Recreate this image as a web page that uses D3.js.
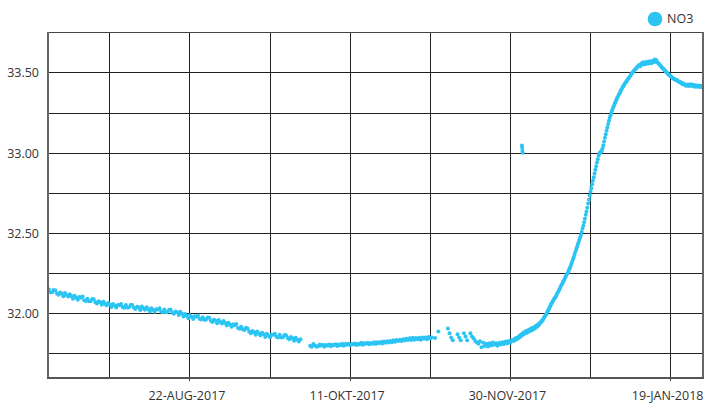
<!DOCTYPE html>
<html>
<head>
<meta charset="utf-8">
<script src="https://cdn.jsdelivr.net/npm/d3@7/dist/d3.min.js"></script>
<style>
  html, body { margin: 0; padding: 0; background: #fff; }
  svg { display: block; }
  text { font-family: "Open Sans", "Noto Sans", "DejaVu Sans", sans-serif; fill: #333; }
</style>
</head>
<body>
<svg id="chart" width="708" height="407"></svg>
<script>
// ---------------- DATA ----------------
const seriesName = "NO3";
const monthNames = ["JAN","FEB","MRT","APR","MEI","JUN","JUL","AUG","SEP","OKT","NOV","DEC"];

// vertical grid dates (every 25 days) and labelled dates
const gridDates  = ["2017-07-28","2017-08-22","2017-09-16","2017-10-11","2017-11-05","2017-11-30","2017-12-25","2018-01-19"];
const labelDates = ["2017-08-22","2017-10-11","2017-11-30","2018-01-19"];
const yGridValues  = [31.75, 32.00, 32.25, 32.50, 32.75, 33.00, 33.25, 33.50];
const yLabelValues = [32.00, 32.50, 33.00, 33.50];

// readings, 12-hourly (Jul-Nov) and 6-hourly (Dec-Jan); null = no reading
const no3Jul = [32.150,32.134, 32.133,32.147, 32.144,32.126, 32.117,32.131, 32.124,32.108,
  32.128,32.116, 32.106,32.121, 32.109,32.093, 32.111,32.101, 32.087,32.103, 32.099,32.106,
  32.084,32.079, 32.093,32.077, 32.077,32.091, 32.089,32.071, 32.063,32.077, 32.071,32.055,
  32.074,32.062, 32.052,32.067, 32.057,32.041, 32.060,32.050, 32.038,32.054, 32.053,32.060];
const no3Aug = [32.042,32.037, 32.054,32.038, 32.040,32.054, 32.054,32.036, 32.029,32.043,
  32.038,32.022, 32.044,32.032, 32.024,32.039, 32.029,32.013, 32.033,32.023, 32.011,32.027,
  32.026,32.033, 32.013,32.008, 32.025,32.009, 32.010,32.024, 32.024,32.006, 31.999,32.013,
  32.008,31.992, 32.012,32.000, 31.982,31.997, 31.987,31.971, 31.990,31.980, 31.967,31.983,
  31.981,31.988, 31.968,31.963, 31.978,31.962, 31.962,31.976, 31.974,31.956, 31.948,31.962,
  31.956,31.940, 31.960,31.948];
const no3Sep = [31.939,31.954, 31.942,31.926, 31.943,31.933, 31.918,31.934, 31.928,31.935,
  31.911,31.906, 31.918,31.902, 31.898,31.912, 31.907,31.889, 31.878,31.892, 31.884,31.868,
  31.888,31.876, 31.866,31.881, 31.871,31.855, 31.874,31.864, 31.853,31.869, 31.868,31.875,
  31.856,31.851, 31.868,31.852, 31.853,31.867, 31.866,31.848, 31.840,31.854, 31.847,31.831,
  31.850,31.838, 31.826,31.841, null,null, null,null, null,31.800, 31.794,31.810, 31.802,31.793];
const no3Oct = [31.796,31.807, 31.800,31.806, 31.793,31.804, 31.801,31.808, 31.797,31.806,
  31.803,31.809, 31.799,31.808, 31.803,31.812, 31.800,31.810, 31.806,31.813, 31.803,31.811,
  31.808,31.814, 31.804,31.813, 31.808,31.818, 31.806,31.815, 31.812,31.819, 31.809,31.817,
  31.813,31.822, 31.811,31.821, 31.816,31.823, 31.814,31.826, 31.819,31.828, 31.820,31.830,
  31.822,31.834, 31.825,31.836, 31.829,31.838, 31.830,31.840, 31.833,31.843, 31.835,31.846,
  31.836,31.849, 31.838,31.848];
const no3Nov = [31.840,31.849, 31.837,31.851, 31.843,31.852, 31.841,31.854, 31.846,31.852,
  null,31.848, null,31.889, null,null, null,null, null,31.907, 31.877,31.852, 31.834,null,
  null,31.871, 31.852,31.834, null,31.877, 31.858,31.834, null,31.877, 31.858,31.846,
  31.830,31.822, 31.812,31.828, 31.790,31.818, 31.798,31.812, 31.795,31.815, 31.802,31.820,
  31.806,31.816, 31.800,31.818, 31.808,31.822, 31.810,31.826, 31.814,31.830, 31.818,31.834];
const no3Dec = [
  31.830,31.842,31.836,31.848, 31.840,31.852,31.846,31.860, 31.855,31.868,31.862,31.876,
  31.870,31.884,31.876,31.890, 31.880,31.894,31.886,31.900, 31.890,31.904,31.897,31.910,
  31.900,31.914,31.908,31.922, 31.914,31.928,31.922,31.936, 31.932,31.944,31.945,31.956,
  31.955,31.966,31.974,31.984, 31.990,31.998,32.010,32.020, 32.028,32.040,32.050,32.062,
  32.068,32.078,32.086,32.096, 32.102,32.110,32.122,32.130, 32.140,32.150,32.160,32.172,
  32.180,32.190,32.202,32.210, 32.222,32.230,32.242,32.250, 32.258,32.272,32.282,32.296,
  32.310,32.322,32.338,32.352, 32.368,32.384,32.398,32.414, 32.430,32.444,32.460,32.474,
  32.490,32.508,32.530,32.548, 32.570,32.592,32.616,32.636, 32.660,32.686,32.710,32.736,
  32.760,32.782,32.806,32.828, 32.850,32.874,32.896,32.918, 32.942,32.962,32.984,32.998,
  33.004,33.010,33.014,33.030, 33.050,33.072,33.096,33.118, 33.140,33.160,33.182,33.202,
  33.220,33.236,33.252,33.268];
const no3Jan = [
  33.282,33.292,33.306,33.318, 33.330,33.342,33.350,33.362, 33.372,33.380,33.392,33.400,
  33.410,33.418,33.426,33.434, 33.442,33.448,33.458,33.464, 33.470,33.478,33.484,33.494,
  33.500,33.506,33.512,33.518, 33.524,33.528,33.536,33.540, 33.546,33.550,33.542,33.556,
  33.560,33.552,33.566,33.556, 33.564,33.556,33.570,33.560, 33.568,33.558,33.572,33.562,
  33.560,33.574,33.566,33.578, 33.584,33.570,33.580,33.568, 33.564,33.558,33.552,33.546,
  33.542,33.534,33.530,33.524, 33.520,33.514,33.508,33.504, 33.498,33.492,33.488,33.484,
  33.480,33.474,33.470,33.466, 33.466,33.460,33.458,33.454, 33.456,33.450,33.446,33.442,
  33.444,33.438,33.434,33.430, 33.434,33.428,33.426,33.420, 33.426,33.420,33.428,33.418,
  33.424,33.430,33.420,33.426, 33.418,33.424,33.414,33.422, 33.420,33.414,33.422,33.416,
  33.418,33.412,33.420,33.414];
// isolated readings in early December
const outlierDates  = ["2017-12-03 14:00","2017-12-03 16:00","2017-12-03 18:00","2017-12-03 20:00"];
const outlierValues = [33.048, 33.032, 33.014, 33.002];

const segments = [
  { start: "2017-07-09 00:00", stepHours: 12, values: no3Jul },
  { start: "2017-08-01 00:00", stepHours: 12, values: no3Aug },
  { start: "2017-09-01 00:00", stepHours: 12, values: no3Sep },
  { start: "2017-10-01 00:00", stepHours: 12, values: no3Oct },
  { start: "2017-11-01 00:00", stepHours: 12, values: no3Nov },
  { start: "2017-12-01 00:00", stepHours: 6,  values: no3Dec },
  { start: "2018-01-01 00:00", stepHours: 6,  values: no3Jan }
];

// ---------------- CHART ----------------
const parseDT = d3.timeParse("%Y-%m-%d %H:%M");
const parseD  = d3.timeParse("%Y-%m-%d");
const points = [];
segments.forEach(s => {
  const t0 = parseDT(s.start);
  s.values.forEach((v, i) => {
    if (v !== null) points.push({ t: d3.timeHour.offset(t0, i * s.stepHours), v: v });
  });
});
outlierDates.forEach((d, i) => points.push({ t: parseDT(d), v: outlierValues[i] }));

const L = 48, R = 702.7, T = 32, B = 377.5;
const x = d3.scaleTime()
  .domain([parseDT("2017-07-08 17:00"), parseDT("2018-01-29 00:00")])
  .range([L, R]);
const y = d3.scaleLinear().domain([31.602, 33.755]).range([B, T]);

const svg = d3.select("#chart");
svg.append("rect").attr("width", 708).attr("height", 407).attr("fill", "#fff");

const grid = svg.append("g").attr("shape-rendering", "crispEdges");
grid.selectAll("line.hg").data(yGridValues).join("line")
  .attr("x1", L).attr("x2", R)
  .attr("y1", d => y(d)).attr("y2", d => y(d))
  .attr("stroke", "#222").attr("stroke-width", 1);
grid.selectAll("line.vg").data(gridDates.map(parseD)).join("line")
  .attr("x1", d => x(d)).attr("x2", d => x(d))
  .attr("y1", T).attr("y2", B)
  .attr("stroke", "#222").attr("stroke-width", 1);

// points
svg.append("g").selectAll("circle").data(points).join("circle")
  .attr("cx", d => x(d.t)).attr("cy", d => y(d.v)).attr("r", 2)
  .attr("fill", "#2bc4f3");

// frame
const frame = svg.append("g").attr("shape-rendering", "crispEdges");
frame.append("line").attr("x1", L).attr("x2", R).attr("y1", T).attr("y2", T)
  .attr("stroke", "#444").attr("stroke-width", 1);
frame.append("line").attr("x1", L).attr("x2", L).attr("y1", T).attr("y2", B + 1)
  .attr("stroke", "#666").attr("stroke-width", 2);
frame.append("line").attr("x1", R).attr("x2", R).attr("y1", T).attr("y2", B + 1)
  .attr("stroke", "#666").attr("stroke-width", 2);
frame.append("line").attr("x1", L - 1).attr("x2", R + 1).attr("y1", B).attr("y2", B)
  .attr("stroke", "#555").attr("stroke-width", 2);
// small ticks under the labelled dates
frame.selectAll("line.tk").data(labelDates.map(parseD)).join("line")
  .attr("x1", d => x(d)).attr("x2", d => x(d))
  .attr("y1", B).attr("y2", B + 3.5)
  .attr("stroke", "#444").attr("stroke-width", 1);

// y labels
const fmtY = d3.format(".2f");
svg.append("g").selectAll("text").data(yLabelValues).join("text")
  .attr("x", 39).attr("y", d => y(d)).attr("dy", "0.35em")
  .attr("text-anchor", "end").attr("font-size", 12.5)
  .text(d => fmtY(d));

// x labels
const fmtX = d => d3.timeFormat("%d")(d) + "-" + monthNames[d.getMonth()] + "-" + d3.timeFormat("%Y")(d);
svg.append("g").selectAll("text").data(labelDates.map(parseD)).join("text")
  .attr("x", d => x(d) - 3).attr("y", 396).attr("dy", "0.35em")
  .attr("text-anchor", "middle").attr("font-size", 12.5)
  .text(d => fmtX(d));

// legend
svg.append("circle").attr("cx", 655).attr("cy", 19).attr("r", 7.3).attr("fill", "#2bc4f3");
svg.append("text").attr("x", 667).attr("y", 19).attr("dy", "0.35em")
  .attr("font-size", 12.5).text(seriesName);
</script>
</body>
</html>
